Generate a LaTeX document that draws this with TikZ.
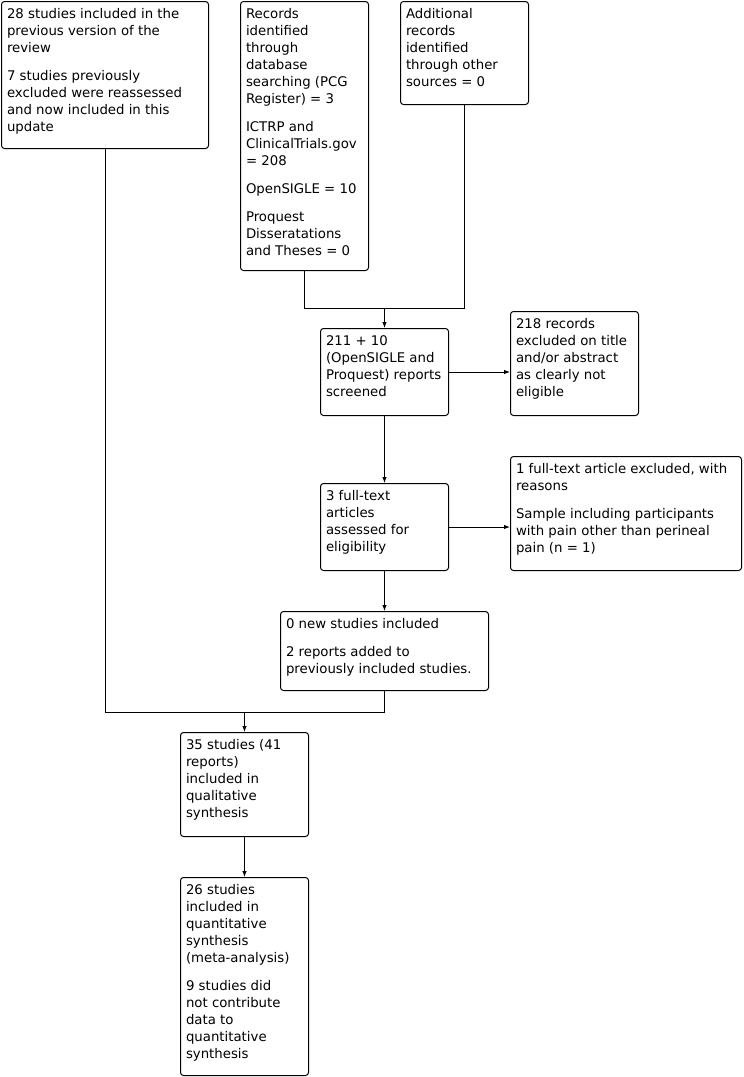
\documentclass[tikz,border=0pt]{standalone}
\usepackage{fontspec}
\setmainfont{DejaVu Sans}
\usetikzlibrary{arrows.meta}
\newcommand{\boxtxt}[3]{\parbox[c][#2pt][t]{\dimexpr #1pt-12pt\relax}{\fontsize{13.3pt}{17pt}\selectfont\raggedright\rule{0pt}{17pt}#3}}
\tikzset{
  flowbox/.style={draw, line width=1pt, rounded corners=3pt, inner xsep=5.5pt, inner ysep=0pt, anchor=north west, align=left},
  conn/.style={line width=1pt},
  arr/.style={line width=1pt, -{Latex[length=6pt,width=4.5pt]}}
}
\begin{document}
\begin{tikzpicture}[x=1pt,y=-1pt]
\useasboundingbox (0,0) rectangle (744,1077);
\node[flowbox] (A) at (1,1) {\boxtxt{208}{147}{28 studies included in the\\previous version of the\\review\\[11pt]7 studies previously\\excluded were reassessed\\and now included in this\\update}};
\node[flowbox] (B) at (240,1) {\boxtxt{129}{269}{Records\\identified\\through\\database\\searching (PCG\\Register) = 3\\[11pt]ICTRP and\\ClinicalTrials.gov\\= 208\\[11pt]OpenSIGLE = 10\\[11pt]Proquest\\Disseratations\\and Theses = 0}};
\node[flowbox] (C) at (400,1) {\boxtxt{129}{103}{Additional\\records\\identified\\through other\\sources = 0}};
\node[flowbox] (D) at (320,328) {\boxtxt{129}{87}{211 + 10\\(OpenSIGLE and\\Proquest) reports\\screened}};
\node[flowbox] (E) at (510,311) {\boxtxt{129}{104}{218 records\\excluded on title\\and/or abstract\\as clearly not\\eligible}};
\node[flowbox] (F) at (320,483) {\boxtxt{129}{87}{3 full-text\\articles\\assessed for\\eligibility}};
\node[flowbox] (G) at (510,456) {\boxtxt{232}{114}{1 full-text article excluded, with\\reasons\\[11pt]Sample including participants\\with pain other than perineal\\pain (n = 1)}};
\node[flowbox] (H) at (280,611) {\boxtxt{209}{79}{0 new studies included\\[11pt]2 reports added to\\previously included studies.}};
\node[flowbox] (I) at (180,732) {\boxtxt{129}{104}{35 studies (41\\reports)\\included in\\qualitative\\synthesis}};
\node[flowbox] (J) at (180,877) {\boxtxt{129}{198}{26 studies\\included in\\quantitative\\synthesis\\(meta-analysis)\\[11pt]9 studies did\\not contribute\\data to\\quantitative\\synthesis}};
\coordinate (m1) at (D.north |- 0,308);
\coordinate (m2) at (I.north |- 0,712);
\draw[conn] (B.south) |- (m1);
\draw[conn] (C.south) |- (m1);
\draw[arr] (m1) -- (D.north);
\draw[arr] (D.east) -- (D.east -| E.west);
\draw[arr] (D.south) -- (F.north);
\draw[arr] (F.east) -- (F.east -| G.west);
\draw[arr] (F.south) -- (H.north);
\draw[conn] (A.south) |- (m2);
\draw[conn] (H.south) |- (m2);
\draw[arr] (m2) -- (I.north);
\draw[arr] (I.south) -- (J.north);
\end{tikzpicture}
\end{document}
